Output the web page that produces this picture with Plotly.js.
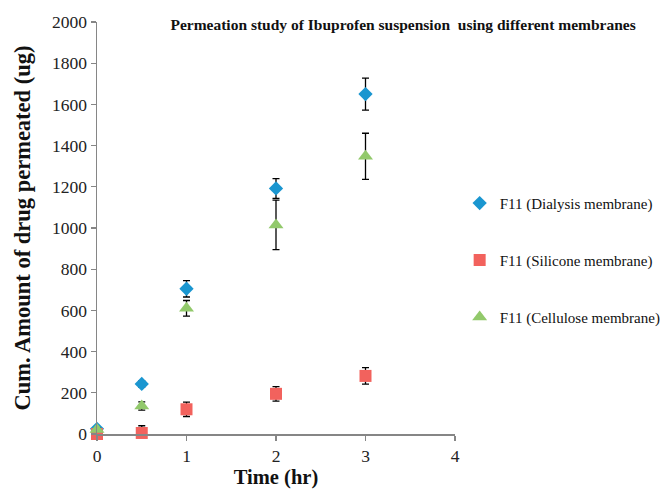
<!DOCTYPE html>
<html>
<head>
<meta charset="utf-8">
<script src="https://cdn.plot.ly/plotly-3.0.1.min.js"></script>
<style>html,body{margin:0;padding:0;background:#fff;}#chart{width:670px;height:489px;}</style>
</head>
<body>
<div id="chart"></div>
<script>
const time = [0, 0.5, 1, 2, 3];
const dialysis = [25, 243, 705, 1192, 1650];
const dialysisErr = [10, 15, 40, 48, 78];
const silicone = [0, 5, 120, 195, 282];
const siliconeErr = [5, 35, 35, 35, 40];
const cellulose = [22, 136, 610, 1015, 1348];
const celluloseErr = [8, 20, 38, 120, 112];
const seriesNames = ['F11 (Dialysis membrane)', 'F11 (Silicone membrane)', 'F11 (Cellulose membrane)'];
const xTicks = [0, 1, 2, 3, 4];
const yTicks = [0, 200, 400, 600, 800, 1000, 1200, 1400, 1600, 1800, 2000];

const errStyle = (arr) => ({type: 'data', array: arr, visible: true, color: '#000', thickness: 1.3, width: 3.5});
const font = "'Liberation Serif', 'Times New Roman', serif";

const traces = [
  {x: time, y: dialysis, error_y: errStyle(dialysisErr), name: seriesNames[0], legendgroup: 'a',
   mode: 'markers', type: 'scatter', cliponaxis: false,
   marker: {symbol: 'diamond', size: 11, color: '#1A96D0'}},
  {x: time, y: silicone, error_y: errStyle(siliconeErr), name: seriesNames[1], legendgroup: 'b',
   mode: 'markers', type: 'scatter', cliponaxis: false,
   marker: {symbol: 'square', size: 12, color: '#F2625D'}},
  {x: time, y: cellulose, error_y: errStyle(celluloseErr), name: seriesNames[2], legendgroup: 'c',
   mode: 'markers', type: 'scatter', cliponaxis: false,
   marker: {symbol: 'triangle-up', size: 13, color: '#92C96B'}}
];

const axisCommon = {
  showgrid: false, zeroline: false, showline: true, linecolor: '#868686', linewidth: 1.5,
  ticks: 'outside', ticklen: 5, tickcolor: '#868686', tickwidth: 1.3,
  tickfont: {family: font, size: 17.5, color: '#222'}
};

const layout = {
  width: 670, height: 489,
  margin: {l: 97, r: 215, t: 22, b: 55, autoexpand: false},
  paper_bgcolor: '#fff', plot_bgcolor: '#fff',
  showlegend: true,
  title: {text: '<b>Permeation study of Ibuprofen suspension  using different membranes</b>',
          font: {family: font, size: 15.5, color: '#111'}, x: 0.855, xanchor: 'center', xref: 'paper', y: 0.949, yanchor: 'middle'},
  xaxis: Object.assign({}, axisCommon, {range: [0, 4], tickvals: xTicks,
    title: {text: '<b>Time (hr)</b>', font: {family: font, size: 20.5, color: '#111'}, standoff: 5}}),
  yaxis: Object.assign({}, axisCommon, {range: [0, 2000], tickvals: yTicks,
    title: {text: '<b>Cum. Amount of drug permeated (ug)</b>', font: {family: font, size: 22.5, color: '#111'}, standoff: 15}}),
  legend: {x: 1.013, xanchor: 'left', y: 0.6, yanchor: 'top', traceorder: 'grouped', tracegroupgap: 34.5,
    font: {family: font, size: 15, color: '#111'}, bgcolor: 'rgba(0,0,0,0)', itemwidth: 30}
};

Plotly.newPlot('chart', traces, layout, {displayModeBar: false, staticPlot: true});
</script>
</body>
</html>
